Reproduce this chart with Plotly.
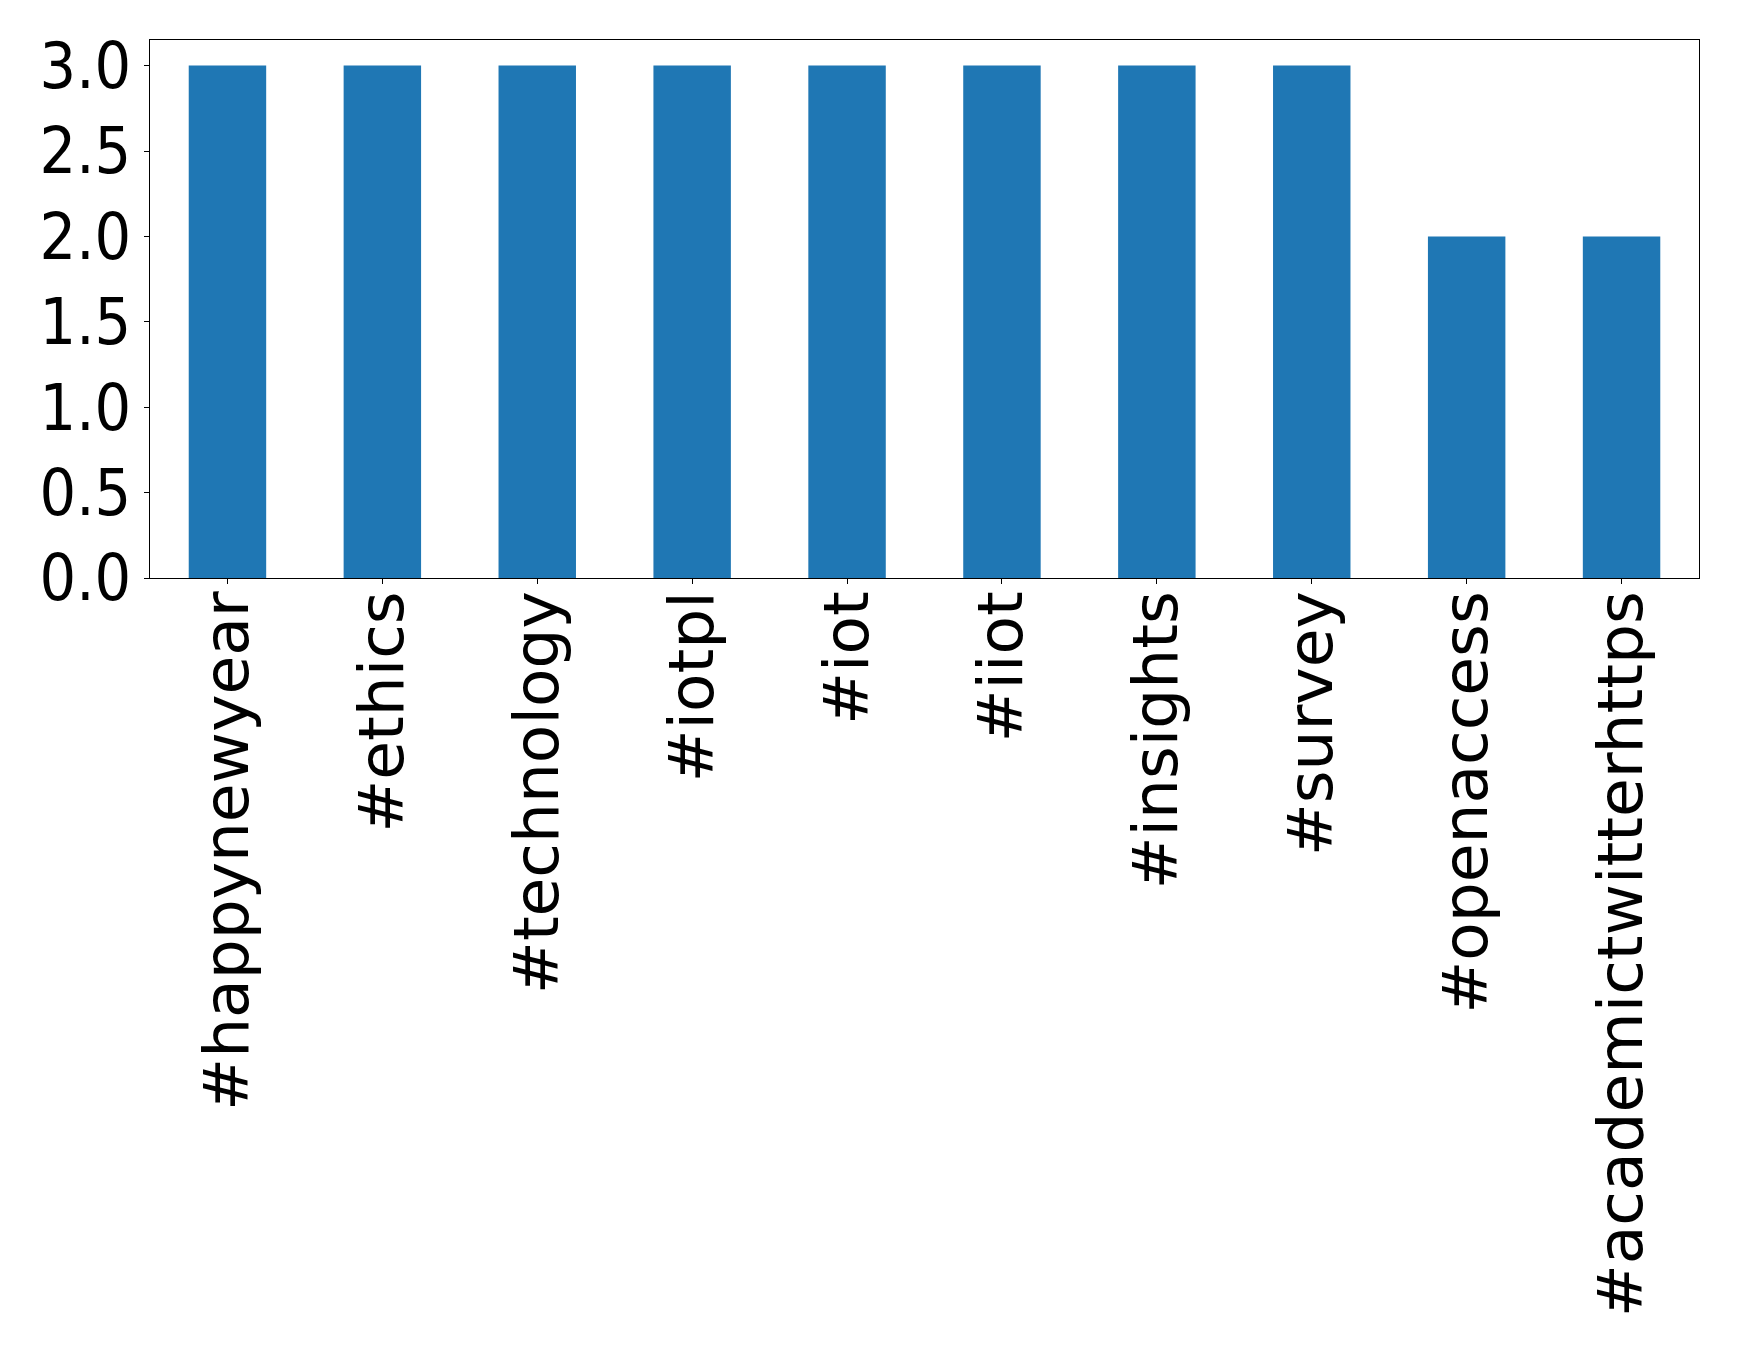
import plotly.graph_objects as go

hashtags = ["#happynewyear", "#ethics", "#technology", "#iotpl", "#iot", "#iiot",
            "#insights", "#survey", "#openaccess", "#academictwitterhttps"]
counts = [3, 3, 3, 3, 3, 3, 3, 3, 2, 2]
ytick_vals = [0.0, 0.5, 1.0, 1.5, 2.0, 2.5, 3.0]

fig = go.Figure(go.Bar(x=list(range(len(hashtags))), y=counts, width=0.5,
                       marker=dict(color="#1f77b4", line=dict(width=0))))

yfont = dict(family="DejaVu Sans Condensed, DejaVu Sans", size=64, color="black")
xfont = dict(family="DejaVu Sans", size=63, color="black")
fig.update_layout(
    width=1723, height=1332,
    margin=dict(l=142, r=32, t=32, b=762, autoexpand=False),
    paper_bgcolor="white", plot_bgcolor="white",
    showlegend=False,
    font=yfont,
)
fig.update_xaxes(
    range=[-0.5, 9.5], tickmode="array", tickvals=list(range(len(hashtags))),
    ticktext=hashtags, tickangle=-90, ticks="outside", ticklen=5, tickwidth=1.2,
    tickcolor="black", showline=True, linecolor="black", linewidth=1.2,
    mirror=True, showgrid=False, zeroline=False, tickfont=xfont, automargin=False,
    ticklabelstandoff=-18,
)
fig.update_yaxes(
    range=[0, 3.15], tickmode="array", tickvals=ytick_vals,
    ticktext=[f"{v:.1f}" for v in ytick_vals], ticks="outside", ticklen=5,
    tickwidth=1.2, tickcolor="black", showline=True, linecolor="black",
    linewidth=1.2, mirror=True, showgrid=False, zeroline=False, tickfont=yfont,
    automargin=False,
)
fig.write_html("out.html")
